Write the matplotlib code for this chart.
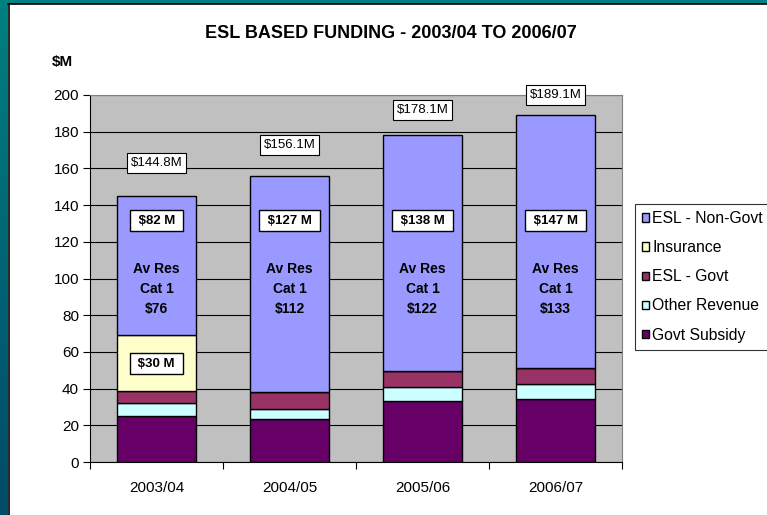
import matplotlib
matplotlib.use("Agg")
import matplotlib.pyplot as plt
import numpy as np
from matplotlib.patches import Rectangle
from matplotlib.lines import Line2D

plt.rcParams['font.family'] = ['Liberation Sans', 'DejaVu Sans']

categories = ['2003/04', '2004/05', '2005/06', '2006/07']
govt_subsidy = [25.0, 23.4, 33.2, 34.3]
other_revenue = [7.2, 5.3, 7.8, 8.2]
esl_govt = [6.5, 9.4, 8.6, 8.6]
insurance = [30.6, 0.0, 0.0, 0.0]
esl_nongovt = [75.5, 118.0, 128.5, 138.0]
totals = [144.8, 156.1, 178.1, 189.1]
total_labels = ['$144.8M', '$156.1M', '$178.1M', '$189.1M']
nongovt_labels = ['$82 M', '$127 M', '$138 M', '$147 M']
avres_labels = ['$76', '$112', '$122', '$133']
insurance_label = '$30 M'

series = [
    ('Govt Subsidy', govt_subsidy, '#660066'),
    ('Other Revenue', other_revenue, '#CCFFFF'),
    ('ESL - Govt', esl_govt, '#993366'),
    ('Insurance', insurance, '#FFFFCC'),
    ('ESL - Non-Govt', esl_nongovt, '#9999FF'),
]

W, H = 767, 515
fig = plt.figure(figsize=(W / 100, H / 100), dpi=100)
fig.patch.set_facecolor('white')

# background border
bg = fig.add_axes([0, 0, 1, 1], zorder=-10)
bg.axis('off')
grad = np.linspace(0, 1, 256)[:, None]
top_c = np.array([0, 128, 128]) / 255
bot_c = np.array([0, 74, 106]) / 255
img = top_c[None, None, :] * (1 - grad[:, :, None]) + bot_c[None, None, :] * grad[:, :, None]
bg.imshow(img, extent=[0, 8, H, 0], aspect='auto', interpolation='bilinear')
bg.add_patch(Rectangle((0, 0), W, 3.5, color='#008080', lw=0))
bg.add_line(Line2D([8.5, 8.5], [4, H], color='black', lw=1.2))
bg.add_line(Line2D([8, W], [4, 4], color='black', lw=1.2))
bg.set_xlim(0, W)
bg.set_ylim(H, 0)

ax = fig.add_axes([90 / W, 1 - 462 / H, (622 - 90) / W, (462 - 95) / H])
ax.set_facecolor('#C0C0C0')
x = np.arange(len(categories))
bottom = np.zeros(len(categories))
handles = {}
for name, vals, col in series:
    vals = np.array(vals)
    b = ax.bar(x, vals, 0.6, bottom=bottom, color=col, edgecolor='black', linewidth=1.0, zorder=3, label=name)
    handles[name] = b
    bottom += vals

ax.set_xlim(-0.5, 3.5)
ax.set_ylim(0, 200)
ax.set_yticks(np.arange(0, 201, 20))
ax.yaxis.grid(True, color='black', linewidth=0.8, zorder=0)
ax.set_axisbelow(True)
ax.set_xticks(np.arange(-0.5, 3.6, 1))
ax.set_xticklabels([])
ax.set_xticks(x, minor=True)
ax.set_xticklabels(categories, minor=True, fontsize=11)
ax.tick_params(axis='x', which='minor', length=0, pad=14)
ax.tick_params(axis='x', which='major', length=5, direction='out', color='black')
ax.tick_params(axis='y', length=5, direction='out', labelsize=11, pad=3)
for s in ['top', 'right']:
    ax.spines[s].set_color('#808080')
for s in ['left', 'bottom']:
    ax.spines[s].set_color('black')

# total labels
label_y = [163, 172.8, 192, 200]
box_plain = dict(boxstyle='square,pad=0.3', fc='white', ec='black', lw=0.8)
for xi, ly, t in zip(x, label_y, total_labels):
    ax.text(xi, ly, t, ha='center', va='center', fontsize=9.5, bbox=box_plain, zorder=5)
box_bold = dict(boxstyle='square,pad=0.35', fc='white', ec='black', lw=1.0)
for xi, t in zip(x, nongovt_labels):
    ax.text(xi, 131.5, ' ' + t + ' ', ha='center', va='center', fontsize=9.5, fontweight='bold',
            bbox=box_bold, zorder=5)
for xi, t in zip(x, avres_labels):
    ax.text(xi, 105, 'Av Res', ha='center', va='center', fontsize=10, fontweight='bold', zorder=5)
    ax.text(xi, 94.5, 'Cat 1', ha='center', va='center', fontsize=10, fontweight='bold', zorder=5)
    ax.text(xi, 83.5, t, ha='center', va='center', fontsize=10, fontweight='bold', zorder=5)
ax.text(x[0], 53.5, ' ' + insurance_label + ' ', ha='center', va='center', fontsize=9.5,
        fontweight='bold', bbox=box_bold, zorder=5)

fig.text(391 / W, 1 - 34 / H, 'ESL BASED FUNDING - 2003/04 TO 2006/07', ha='center', va='center',
         fontsize=13, fontweight='bold')
fig.text(52 / W, 1 - 62 / H, '$M', ha='left', va='center', fontsize=11, fontweight='bold')

order = ['ESL - Non-Govt', 'Insurance', 'ESL - Govt', 'Other Revenue', 'Govt Subsidy']
leg = ax.legend([handles[n] for n in order], order, loc='upper left',
                bbox_to_anchor=(635 / W, 1 - 204 / H), bbox_transform=fig.transFigure,
                fontsize=11.3, frameon=True, fancybox=False, edgecolor='black',
                handlelength=0.45, handleheight=0.45, handletextpad=0.2, labelspacing=0.9,
                borderpad=0.45, borderaxespad=0)
leg.get_frame().set_linewidth(0.8)

fig.savefig('out.png', dpi=100, facecolor='white')
